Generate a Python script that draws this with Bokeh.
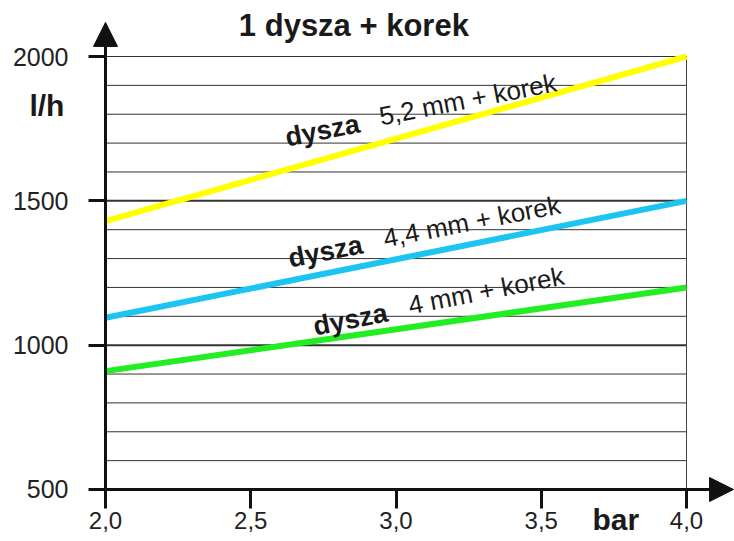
from bokeh.plotting import figure
from bokeh.models import Range1d, FixedTicker, Arrow, NormalHead, Label, ColumnDataSource
from bokeh.core.properties import value
from bokeh.embed import file_html
from bokeh.resources import INLINE
import math

# ---- data ----
pressure = [2.0, 4.0]                 # bar
flow_52 = [1430, 2000]                # dysza 5,2 mm + korek (l/h)
flow_44 = [1095, 1500]                # dysza 4,4 mm + korek
flow_40 = [910, 1200]                 # dysza 4 mm + korek

x_ticks = [2.0, 2.5, 3.0, 3.5, 4.0]
x_tick_labels = ["2,0", "2,5", "3,0", "3,5", "4,0"]
y_ticks = [500, 1000, 1500, 2000]
grid_levels = [600, 700, 800, 900, 1000, 1100, 1200, 1300, 1400, 1500,
               1600, 1700, 1800, 1900, 2000]
grid_widths = [2 if g in (1000, 1500) else 1 for g in grid_levels]

nozzle_names = ["5,2 mm + korek", "4,4 mm + korek", "4 mm + korek"]
bold_x = [2.620, 2.630, 2.716]
bold_y = [1719, 1300, 1064]
name_x = [2.943, 2.957, 3.043]
name_y = [1792, 1369, 1137]

FONT = "Liberation Sans"
INK = "#1a1a1a"

p = figure(width=734, height=541, output_backend="svg", toolbar_location=None,
           x_range=Range1d(1.63855, 4.16523), y_range=Range1d(319.86, 2194.0),
           min_border_left=0, min_border_right=0, min_border_top=0,
           min_border_bottom=0)
p.outline_line_color = None
p.grid.visible = False
p.background_fill_color = "white"

# grid lines (only between 2.0 and 4.0)
gsrc = ColumnDataSource(dict(x0=[x_ticks[0]] * len(grid_levels),
                             x1=[x_ticks[-1]] * len(grid_levels),
                             y=grid_levels, w=grid_widths))
p.segment(x0="x0", y0="y", x1="x1", y1="y", line_width="w",
          line_color="#333333", source=gsrc)
# right border at 4.0
p.segment(x0=[x_ticks[-1]], y0=[y_ticks[0]], x1=[x_ticks[-1]], y1=[y_ticks[-1]],
          line_width=1, line_color="#444444")

# data lines
p.line(pressure, flow_52, line_color="#FFFF00", line_width=6)
p.line(pressure, flow_44, line_color="#1CC4F2", line_width=6)
p.line(pressure, flow_40, line_color="#22EE22", line_width=6)

ang = math.radians(11)
p.text(x=bold_x, y=bold_y, text=["dysza"] * 3, angle=ang,
       text_font=value(FONT), text_font_size="27px", text_font_style="bold",
       text_color=INK, text_align="left", text_baseline="alphabetic")
p.text(x=name_x, y=name_y, text=nozzle_names, angle=ang,
       text_font=value(FONT), text_font_size="26px",
       text_color=INK, text_align="left", text_baseline="alphabetic")

# axes (fixed at the origin of the chart)
for ax in (p.xaxis[0], p.yaxis[0]):
    ax.axis_line_color = None
    ax.major_tick_line_width = 3
    ax.major_tick_line_color = "#111111"
    ax.major_tick_in = 0
    ax.minor_tick_line_color = None
    ax.major_label_text_font = FONT
    ax.major_label_text_color = "#222222"

p.xaxis.fixed_location = 500
p.xaxis.ticker = FixedTicker(ticks=x_ticks)
p.xaxis.major_label_overrides = {t: l for t, l in zip(x_ticks, x_tick_labels)}
p.xaxis.major_tick_out = 19
p.xaxis.major_label_standoff = 4
p.xaxis.major_label_text_font_size = "24px"

p.yaxis.fixed_location = 2.0
p.yaxis.ticker = FixedTicker(ticks=y_ticks)
p.yaxis.major_tick_out = 17
p.yaxis.major_label_standoff = 20
p.yaxis.major_label_text_font_size = "25px"

# axis lines with arrows
p.add_layout(Arrow(end=NormalHead(size=24, fill_color="#111111", line_color="#111111"),
                   x_start=2.0, y_start=500, x_end=2.0, y_end=2118,
                   line_width=3, line_color="#111111"))
p.add_layout(Arrow(end=NormalHead(size=24, fill_color="#111111", line_color="#111111"),
                   x_start=2.0, y_start=500, x_end=4.162, y_end=500,
                   line_width=3, line_color="#111111"))

# texts
p.add_layout(Label(x=2.855, y=2107, text="1 dysza + korek", text_font=FONT,
                   text_font_size="31px", text_font_style="bold", text_color=INK,
                   text_align="center", text_baseline="alphabetic"))
p.add_layout(Label(x=1.738, y=1830, text="l/h", text_font=FONT,
                   text_font_size="30px", text_font_style="bold", text_color=INK,
                   text_align="left", text_baseline="alphabetic"))
p.add_layout(Label(x=3.676, y=396, text="bar", text_font=FONT,
                   text_font_size="30px", text_font_style="bold", text_color=INK,
                   text_align="left", text_baseline="alphabetic"))

open("out.html", "w").write(file_html(p, INLINE))
